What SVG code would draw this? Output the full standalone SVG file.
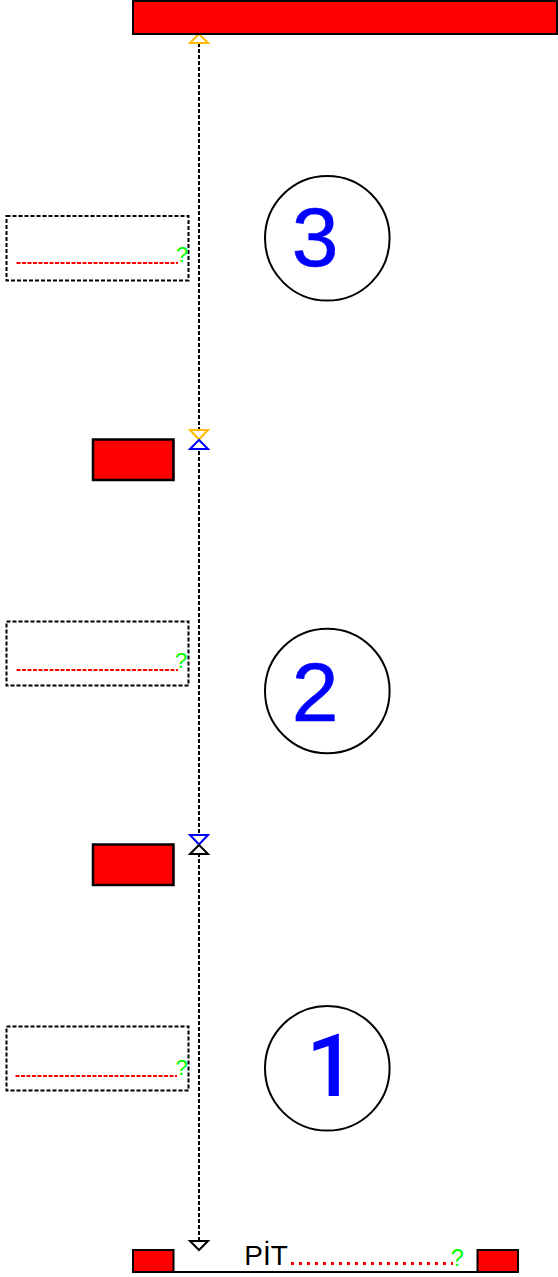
<svg xmlns="http://www.w3.org/2000/svg" width="558" height="1277" viewBox="0 0 558 1277">
<style>
.red{fill:#f00;stroke:#000;stroke-width:2}
.door{fill:#f00;stroke:#000;stroke-width:2.500}
.box{fill:none;stroke:#000;stroke-width:2;stroke-dasharray:4 2}
.conn{fill:none;stroke:#000;stroke-width:2;stroke-dasharray:4 2}
.rd{fill:none;stroke:#f00;stroke-width:2;stroke-dasharray:4 1.500}
.circ{fill:#fff;stroke:#000;stroke-width:2}
.num{font-family:"Liberation Sans",Arial,sans-serif;font-size:84px;fill:#00f;stroke:#00f;stroke-width:.6;text-anchor:middle}
.q{font-family:"Liberation Sans",Arial,sans-serif;font-size:22px;fill:#0f0;text-anchor:middle}
.tri{fill:#fff;stroke-width:2}
</style>
<g id="connectors">
<path class="conn" d="M199 43V1241"/>
<path class="tri" stroke="#fb0" d="M190 43L199 34L208 43Z"/>
<path class="tri" stroke="#fb0" d="M190 430L199 439.500L208 430Z"/>
<path class="tri" stroke="#00f" d="M190 449L199 440L208 449Z"/>
<path class="tri" stroke="#00f" d="M190 835L199 844.500L208 835Z"/>
<path class="tri" stroke="#000" d="M190 854L199 845L208 854Z"/>
<path class="tri" stroke="#000" d="M190 1241L199 1250L208 1241Z"/>
</g>
<g id="top-bar"><rect class="red" x="133" y="1" width="424" height="33"/></g>
<g id="circle-3"><circle class="circ" cx="327.300" cy="238.300" r="62.300"/><text class="num" x="315" y="266">3</text></g>
<g id="circle-2"><circle class="circ" cx="327.300" cy="691" r="62.300"/><text class="num" x="315" y="721">2</text></g>
<g id="circle-1"><circle class="circ" cx="327.300" cy="1068.300" r="62.300"/><text x="331" y="1096" font-family="Roboto,sans-serif" font-weight="500" font-size="87px" fill="#00f" text-anchor="middle">1</text></g>
<g id="box-3"><rect class="box" x="6.500" y="216" width="182" height="64.500"/><path class="rd" d="M16.500 263H178"/><text class="q" x="182" y="262">?</text></g>
<g id="box-2"><rect class="box" x="6.500" y="621.500" width="182" height="64"/><path class="rd" d="M16.500 670H178"/><text class="q" x="181" y="668">?</text></g>
<g id="box-1"><rect class="box" x="6.500" y="1026.500" width="182" height="64"/><path class="rd" d="M15.500 1076H177"/><text class="q" x="181.500" y="1074.500">?</text></g>
<g id="door-2"><rect class="door" x="93" y="439.500" width="80.500" height="40.500"/></g>
<g id="door-1"><rect class="door" x="93" y="844.500" width="80.500" height="40.500"/></g>
<g id="pit">
<path fill="none" stroke="#000" stroke-width="2" d="M174 1272H478"/>
<rect class="red" x="133" y="1250" width="40.500" height="22"/>
<rect class="red" x="477.500" y="1250" width="40.500" height="22"/>
<text x="266" y="1265" font-family="'Liberation Sans',Arial,sans-serif" font-size="28px" fill="#000" text-anchor="middle">PİT</text>
<path fill="none" stroke="#f00" stroke-width="3" stroke-dasharray="3 5" d="M291 1263.500H453"/>
<text class="q" x="457.500" y="1266" style="font-size:23px">?</text>
</g>
</svg>
